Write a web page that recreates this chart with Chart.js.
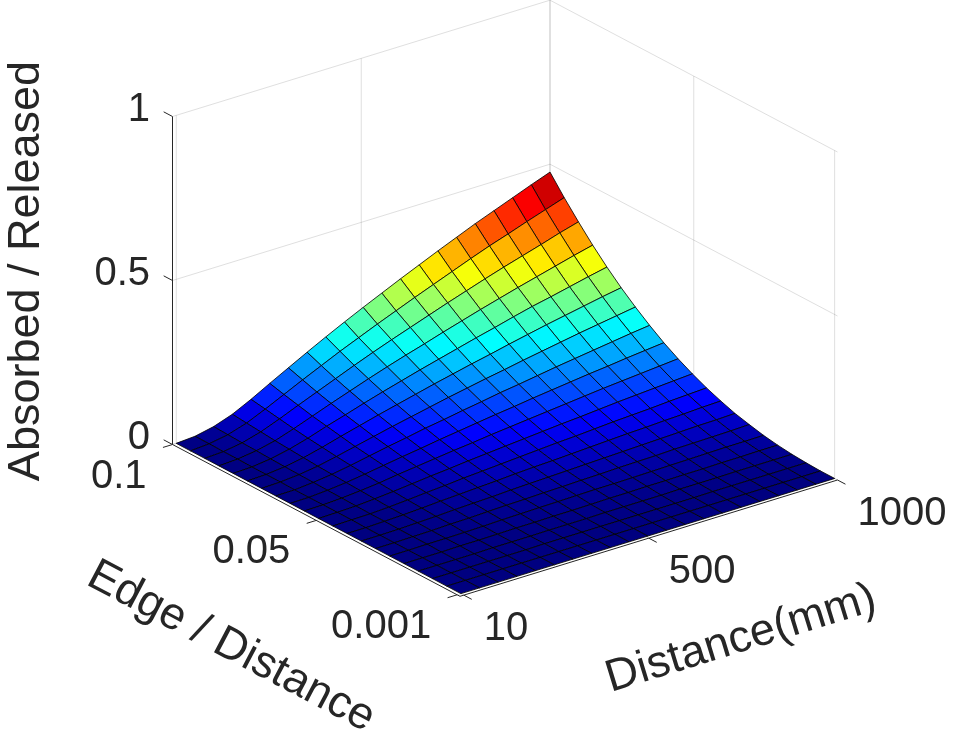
<!DOCTYPE html>
<html>
<head>
<meta charset="utf-8">
<title>Absorbed / Released surface</title>
<script src="https://cdn.jsdelivr.net/npm/chart.js@4.4.0/dist/chart.umd.min.js"></script>
<style>
  html, body { margin: 0; padding: 0; background: #ffffff; }
  #wrap { width: 955px; height: 737px; }
</style>
</head>
<body>
<div id="wrap"><canvas id="surfaceChart" width="955" height="737"></canvas></div>
<script>
// ---- data ----
const distances = [10, 59.5, 109, 158.5, 208, 257.5, 307, 356.5, 406, 455.5, 505,
                   554.5, 604, 653.5, 703, 752.5, 802, 851.5, 901, 950.5, 1000];
const edgeRatios = [0.1, 0.09505, 0.0901, 0.08515, 0.0802, 0.07525, 0.0703, 0.06535, 0.0604, 0.05545, 0.0505,
                    0.04555, 0.0406, 0.03565, 0.0307, 0.02575, 0.0208, 0.01585, 0.0109, 0.00595, 0.001];
// one row per edge ratio, one column per distance
const absorbedRatio = [
  [0,.004,.016,.036,.064,.095,.125,.155,.184,.212,.239,.265,.291,.316,.341,.365,.389,.411,.433,.455,.476],
  [0,.004,.014,.032,.057,.084,.111,.137,.163,.187,.211,.234,.257,.279,.301,.323,.344,.363,.383,.402,.421],
  [0,.003,.012,.028,.050,.074,.097,.120,.143,.165,.186,.206,.226,.246,.265,.284,.302,.319,.336,.354,.370],
  [0,.003,.011,.024,.043,.064,.085,.105,.125,.144,.162,.179,.197,.214,.231,.247,.263,.278,.293,.308,.322],
  [0,.002,.009,.021,.037,.056,.073,.091,.108,.124,.140,.155,.170,.185,.199,.214,.228,.240,.253,.266,.278],
  [0,.002,.008,.018,.032,.048,.063,.078,.092,.106,.120,.133,.146,.158,.171,.183,.195,.206,.217,.228,.238],
  [0,.002,.007,.015,.027,.040,.053,.066,.078,.090,.102,.113,.124,.134,.145,.155,.165,.175,.184,.193,.202],
  [0,.001,.006,.013,.023,.034,.045,.055,.066,.075,.085,.094,.104,.112,.121,.130,.138,.146,.154,.162,.169],
  [0,.001,.005,.011,.019,.028,.037,.045,.054,.062,.070,.078,.085,.093,.100,.107,.114,.120,.127,.133,.139],
  [0,.001,.004,.009,.015,.023,.030,.037,.044,.050,.057,.063,.069,.075,.081,.087,.093,.098,.103,.108,.113],
  [0,.001,.003,.007,.012,.018,.024,.029,.035,.040,.045,.050,.055,.060,.064,.069,.074,.078,.082,.086,.090],
  [0,.001,.002,.005,.009,.014,.018,.023,.027,.031,.035,.039,.043,.046,.050,.054,.057,.060,.064,.067,.070],
  [0,0,.002,.004,.007,.011,.014,.017,.020,.024,.027,.029,.032,.035,.038,.041,.043,.046,.048,.051,.053],
  [0,0,.001,.003,.005,.008,.010,.012,.015,.017,.019,.021,.023,.025,.027,.029,.031,.033,.035,.036,.038],
  [0,0,.001,.002,.004,.005,.007,.009,.010,.012,.013,.015,.016,.018,.019,.020,.022,.023,.024,.025,.027],
  [0,0,.001,.001,.002,.003,.005,.006,.007,.008,.009,.010,.010,.011,.012,.013,.014,.015,.016,.016,.017],
  [0,0,0,.001,.001,.002,.003,.003,.004,.004,.005,.006,.006,.007,.007,.008,.008,.009,.009,.010,.010],
  [0,0,0,0,.001,.001,.001,.002,.002,.002,.003,.003,.003,.003,.004,.004,.004,.005,.005,.005,.005],
  [0,0,0,0,0,0,.001,.001,.001,.001,.001,.001,.001,.001,.001,.002,.002,.002,.002,.002,.002],
  [0,0,0,0,0,0,0,0,0,0,0,0,0,0,0,0,0,0,0,0,0],
  [0,0,0,0,0,0,0,0,0,0,0,0,0,0,0,0,0,0,0,0,0]
];

const distanceTicks = [10, 500, 1000];
const distanceTickLabels = ['10', '500', '1000'];
const edgeTicks = [0.1, 0.05, 0.001];
const edgeTickLabels = ['0.1', '0.05', '0.001'];
const ratioTicks = [0, 0.5, 1];
const ratioTickLabels = ['0', '0.5', '1'];

const distanceLimits = [0, 1000];
const edgeLimits = [0, 0.1];
const ratioLimits = [0, 1];

// ---- view (screen units of the 955x737 picture) ----
const view = {
    origin: [172.5, 444.5],      // D = 0, E = 0.1, z = 0
    distanceDir: [377.5, -116.3], // full distance range
    edgeDir: [287.5, 151.8],      // E from 0.1 down to 0
    heightDir: [0, -328]          // z from 0 to 1
};

const textColor = '#262626';
const gridColor = 'rgba(38,38,38,0.15)';
const tickFont = '40px "Liberation Sans", Arial, Helvetica, sans-serif';
const labelFont = '45px "Liberation Sans", Arial, Helvetica, sans-serif';

function project(chart, D, E, z) {
    const u = (D - distanceLimits[0]) / (distanceLimits[1] - distanceLimits[0]);
    const w = (edgeLimits[1] - E) / (edgeLimits[1] - edgeLimits[0]);
    const h = (z - ratioLimits[0]) / (ratioLimits[1] - ratioLimits[0]);
    const vx = view.origin[0] + view.distanceDir[0] * u + view.edgeDir[0] * w + view.heightDir[0] * h;
    const vy = view.origin[1] + view.distanceDir[1] * u + view.edgeDir[1] * w + view.heightDir[1] * h;
    return { x: chart.scales.x.getPixelForValue(vx), y: chart.scales.y.getPixelForValue(vy) };
}

function jet(v) {
    const c = t => Math.round(255 * Math.min(1, Math.max(0, t)));
    const r = c(1.5 - Math.abs(4 * v - 3));
    const g = c(1.5 - Math.abs(4 * v - 2));
    const b = c(1.5 - Math.abs(4 * v - 1));
    return `rgb(${r},${g},${b})`;
}

function segment(ctx, p, q) {
    ctx.beginPath();
    ctx.moveTo(p.x, p.y);
    ctx.lineTo(q.x, q.y);
    ctx.stroke();
}

function unitDir(p, q, len) {
    const dx = q.x - p.x, dy = q.y - p.y;
    const n = Math.hypot(dx, dy) || 1;
    return { x: dx / n * len, y: dy / n * len };
}

function drawGrid(chart, ctx) {
    const [dMin, dMax] = distanceLimits;
    const [eMin, eMax] = edgeLimits;
    const [zMin, zMax] = ratioLimits;
    ctx.strokeStyle = gridColor;
    ctx.lineWidth = 1;
    // back wall at E = max
    distanceTicks.forEach(d => segment(ctx, project(chart, d, eMax, zMin), project(chart, d, eMax, zMax)));
    ratioTicks.forEach(z => segment(ctx, project(chart, dMin, eMax, z), project(chart, dMax, eMax, z)));
    // side wall at D = max
    edgeTicks.forEach(e => segment(ctx, project(chart, dMax, e, zMin), project(chart, dMax, e, zMax)));
    ratioTicks.forEach(z => segment(ctx, project(chart, dMax, eMax, z), project(chart, dMax, eMin, z)));
    // floor
    distanceTicks.forEach(d => segment(ctx, project(chart, d, eMax, zMin), project(chart, d, eMin, zMin)));
    edgeTicks.forEach(e => segment(ctx, project(chart, dMin, e, zMin), project(chart, dMax, e, zMin)));
}

function drawSurface(chart, ctx) {
    let cMax = 0;
    absorbedRatio.forEach(row => row.forEach(v => { if (v > cMax) cMax = v; }));

    const cells = [];
    for (let j = 0; j < edgeRatios.length - 1; j++) {
        for (let i = 0; i < distances.length - 1; i++) {
            cells.push({ i, j, depth: j - i });
        }
    }
    cells.sort((a, b) => a.depth - b.depth); // far cells first

    ctx.lineWidth = 0.9;
    ctx.strokeStyle = 'rgba(0,0,0,0.9)';
    ctx.lineJoin = 'round';
    cells.forEach(({ i, j }) => {
        const corners = [[i, j], [i + 1, j], [i + 1, j + 1], [i, j + 1]];
        let sum = 0;
        ctx.beginPath();
        corners.forEach(([a, b], k) => {
            const z = absorbedRatio[b][a];
            sum += z;
            const p = project(chart, distances[a], edgeRatios[b], z);
            if (k === 0) ctx.moveTo(p.x, p.y); else ctx.lineTo(p.x, p.y);
        });
        ctx.closePath();
        ctx.fillStyle = jet(sum / 4 / cMax);
        ctx.fill();
        ctx.stroke();
    });
}

function drawAxes(chart, ctx) {
    const [dMin, dMax] = distanceLimits;
    const [eMin, eMax] = edgeLimits;
    const [zMin, zMax] = ratioLimits;
    ctx.strokeStyle = textColor;
    ctx.fillStyle = textColor;
    ctx.lineWidth = 1;

    // vertical (ratio) axis at D = min, E = max
    segment(ctx, project(chart, dMin, eMax, zMin), project(chart, dMin, eMax, zMax));
    // edge axis at D = min, z = 0
    segment(ctx, project(chart, dMin, eMax, zMin), project(chart, dMin, eMin, zMin));
    // distance axis at E = min, z = 0
    segment(ctx, project(chart, dMin, eMin, zMin), project(chart, dMax, eMin, zMin));

    const backDir = unitDir(project(chart, dMin, eMin, 0), project(chart, dMin, eMax, 0), 10);
    const leftDir = unitDir(project(chart, dMax, eMax, 0), project(chart, dMin, eMax, 0), 10);
    const frontDir = unitDir(project(chart, dMin, eMax, 0), project(chart, dMin, eMin, 0), 9);

    ctx.font = tickFont;
    ctx.textBaseline = 'middle';

    ratioTicks.forEach((z, k) => {
        const p = project(chart, dMin, eMax, z);
        segment(ctx, p, { x: p.x + backDir.x, y: p.y + backDir.y });
        ctx.textAlign = 'right';
        ctx.fillText(ratioTickLabels[k], p.x - 22.5, p.y - 7);
    });
    edgeTicks.forEach((e, k) => {
        const p = project(chart, dMin, e, zMin);
        segment(ctx, p, { x: p.x + leftDir.x, y: p.y + leftDir.y });
        ctx.textAlign = 'right';
        ctx.fillText(edgeTickLabels[k], p.x - 26, p.y + 32);
    });
    distanceTicks.forEach((d, k) => {
        const p = project(chart, d, eMin, zMin);
        segment(ctx, p, { x: p.x + frontDir.x, y: p.y + frontDir.y });
        ctx.textAlign = 'left';
        ctx.fillText(distanceTickLabels[k], p.x + 20, p.y + 34);
    });

    // axis titles
    ctx.font = labelFont;
    ctx.textAlign = 'center';
    const o = project(chart, dMin, eMax, 0);
    const eEnd = project(chart, dMin, eMin, 0);
    const dEnd = project(chart, dMax, eMin, 0);
    const edgeAngle = Math.atan2(eEnd.y - o.y, eEnd.x - o.x);
    const distAngle = Math.atan2(dEnd.y - eEnd.y, dEnd.x - eEnd.x);

    ctx.save();
    ctx.translate(27, 271);
    ctx.rotate(-Math.PI / 2);
    ctx.fillText('Absorbed / Released', 0, 0);
    ctx.restore();

    ctx.save();
    ctx.translate(231, 647);
    ctx.rotate(edgeAngle);
    ctx.fillText('Edge / Distance', 0, 0);
    ctx.restore();

    ctx.save();
    ctx.translate(741, 639);
    ctx.rotate(distAngle);
    ctx.fillText('Distance(mm)', 0, 0);
    ctx.restore();
}

const surfacePlugin = {
    id: 'surface3d',
    beforeDatasetsDraw(chart) {
        const ctx = chart.ctx;
        ctx.save();
        drawGrid(chart, ctx);
        drawSurface(chart, ctx);
        drawAxes(chart, ctx);
        ctx.restore();
    }
};

const ctx = document.getElementById('surfaceChart');
new Chart(ctx, {
    type: 'scatter',
    data: { datasets: [{ data: [], pointRadius: 0 }] },
    options: {
        responsive: false,
        animation: false,
        devicePixelRatio: 1,
        layout: { padding: 0 },
        plugins: {
            legend: { display: false },
            tooltip: { enabled: false }
        },
        scales: {
            x: { type: 'linear', min: 0, max: 955, display: false },
            y: { type: 'linear', min: 0, max: 737, reverse: true, display: false }
        }
    },
    plugins: [surfacePlugin]
});
</script>
</body>
</html>
